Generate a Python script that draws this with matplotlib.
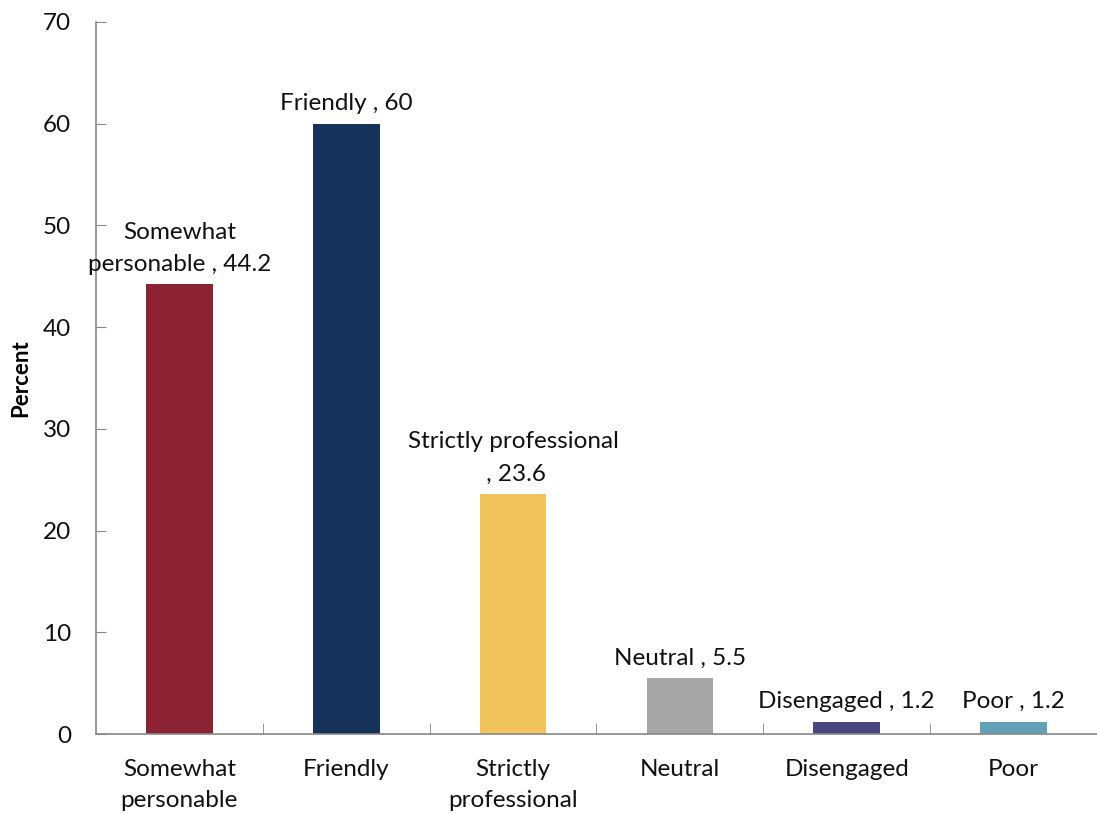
import matplotlib.pyplot as plt

plt.rcParams['font.family'] = ['Lato', 'DejaVu Sans']

# survey responses
categories = ['Somewhat\npersonable', 'Friendly', 'Strictly\nprofessional',
              'Neutral', 'Disengaged', 'Poor']
label_names = ['Somewhat\npersonable', 'Friendly', 'Strictly professional\n',
               'Neutral', 'Disengaged', 'Poor']
percent = [44.2, 60, 23.6, 5.5, 1.2, 1.2]
colors = ['#8B2332', '#17325A', '#F2C45E', '#A6A6A6', '#4B4580', '#64A0B8']

fig = plt.figure(figsize=(10.97, 8.14), dpi=100)
ax = fig.add_axes([0.0875, 0.098, 0.9125, 0.875])

x = range(len(categories))
bars = ax.bar(x, percent, width=0.4, color=colors)

for xi, name, val in zip(x, label_names, percent):
    ax.annotate(f'{name} , {val:g}', (xi, val), xytext=(0, 7),
                textcoords='offset points', ha='center', va='bottom',
                fontsize=17.5, color='#111111', linespacing=1.65)

ax.set_xlim(-0.5, len(categories) - 0.5)
ax.set_ylim(0, 70)
ax.set_yticks(range(0, 71, 10))
ax.set_xticks(x)
ax.set_xticklabels(categories, fontsize=17.5, linespacing=1.6, color='#111111')
ax.set_xticks([i + 0.5 for i in range(len(categories))], minor=True)
ax.tick_params(axis='x', which='major', length=0, pad=18)
ax.tick_params(axis='x', which='minor', direction='in', length=8, color='#888888')
ax.tick_params(axis='y', direction='in', length=7, color='#888888',
               labelsize=17.5, pad=18, labelcolor='#111111')
ax.set_ylabel('Percent', fontsize=16, fontweight='bold', labelpad=8)

for side in ['top', 'right']:
    ax.spines[side].set_visible(False)
for side in ['left', 'bottom']:
    ax.spines[side].set_color('#888888')
    ax.spines[side].set_linewidth(1.2)

fig.savefig('out.png', dpi=100)
